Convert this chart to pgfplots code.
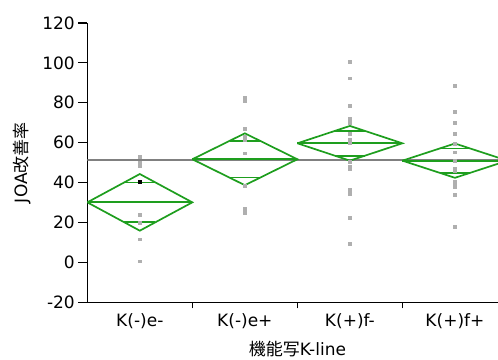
\documentclass[border=0pt]{standalone}
\usepackage{pgfplots}
\pgfplotsset{compat=1.18}
\usepackage{fontspec}
\setmainfont{DejaVu Sans}
\newfontfamily\jp{Noto Sans CJK JP}
\definecolor{jgreen}{RGB}{30,158,30}
\definecolor{ptgray}{RGB}{175,175,175}
\definecolor{mgray}{RGB}{128,128,128}
\begin{document}
\begin{tikzpicture}
\begin{axis}[
  scale only axis,
  width=410.7bp, height=279.3bp,
  xmin=0, xmax=3.91, ymin=-20, ymax=120,
  axis x line*=bottom, axis y line*=left,
  axis line style={-, line width=1.2bp, black},
  ytick=\empty,
  extra y ticks={-20,0,20,40,60,80,100,120},
  extra y tick style={major tick length=9bp},
  xtick={1,2,3},
  xticklabels={},
  extra x ticks={0.5,1.5,2.5,3.5},
  extra x tick labels={K(-)e-,K(-)e+,K(+)f-,K(+)f+},
  extra x tick style={major tick length=0bp, xticklabel style={anchor=center, yshift=-19bp}},
  tick align=outside,
  major tick length=6bp,
  tick style={line width=1.2bp, black},
  tick label style={font=\fontsize{17bp}{20bp}\selectfont},
  /pgf/number format/assume math mode=true,
  yticklabel style={anchor=east},
  clip=true,
]
\coordinate (SW) at (rel axis cs:0,0);
\coordinate (NE) at (rel axis cs:1,1);
\coordinate (XL) at (axis cs:2,-20);
% grand mean
\addplot[mgray, line width=1.6bp] coordinates {(0,51.2) (3.91,51.2)};
% data points
\addplot[only marks, mark=square*, mark size=1.4bp, color=ptgray] coordinates {
(0.5,53.0) (0.5,50.0) (0.5,48.3) (0.5,23.9) (0.5,20.1) (0.5,11.6) (0.5,0.6)
(1.5,82.4) (1.5,81.0) (1.5,66.9) (1.5,63.0) (1.5,61.4) (1.5,54.7) (1.5,38.3) (1.5,26.8) (1.5,24.8)
(2.5,100.6) (2.5,92.3) (2.5,78.4) (2.5,72.2) (2.5,71.0) (2.5,70.0) (2.5,64.7) (2.5,61.4) (2.5,59.7) (2.5,50.5) (2.5,48.0) (2.5,46.7) (2.5,36.6) (2.5,34.3) (2.5,22.4) (2.5,9.2)
(3.5,88.4) (3.5,75.5) (3.5,70.2) (3.5,64.7) (3.5,59.3) (3.5,55.2) (3.5,51.0) (3.5,46.8) (3.5,45.8) (3.5,40.5) (3.5,38.8) (3.5,37.9) (3.5,34.1) (3.5,17.9)
};
\addplot[only marks, mark=square*, mark size=1.4bp, color=black] coordinates {(0.5,40.3)};
% diamonds
\addplot[jgreen, line width=1.7bp] coordinates {(0,30.1) (0.5,44.3) (1,30.1) (0.5,15.9) (0,30.1)};
\addplot[jgreen, line width=1.7bp] coordinates {(0,30.1) (1,30.1)};
\addplot[jgreen, line width=1.7bp] coordinates {(0.354,40.1) (0.646,40.1)};
\addplot[jgreen, line width=1.7bp] coordinates {(0.354,20.1) (0.646,20.1)};
\addplot[jgreen, line width=1.7bp] coordinates {(1,51.7) (1.5,64.7) (2,51.7) (1.5,38.7) (1,51.7)};
\addplot[jgreen, line width=1.7bp] coordinates {(1,51.7) (2,51.7)};
\addplot[jgreen, line width=1.7bp] coordinates {(1.354,60.9) (1.646,60.9)};
\addplot[jgreen, line width=1.7bp] coordinates {(1.354,42.5) (1.646,42.5)};
\addplot[jgreen, line width=1.7bp] coordinates {(2,59.7) (2.5,68.4) (3,59.7) (2.5,51.0) (2,59.7)};
\addplot[jgreen, line width=1.7bp] coordinates {(2,59.7) (3,59.7)};
\addplot[jgreen, line width=1.7bp] coordinates {(2.354,65.9) (2.646,65.9)};
\addplot[jgreen, line width=1.7bp] coordinates {(2.354,53.5) (2.646,53.5)};
\addplot[jgreen, line width=1.7bp] coordinates {(3,51.0) (3.5,59.6) (4,51.0) (3.5,42.4) (3,51.0)};
\addplot[jgreen, line width=1.7bp] coordinates {(3,51.0) (4,51.0)};
\addplot[jgreen, line width=1.7bp] coordinates {(3.354,57.1) (3.646,57.1)};
\addplot[jgreen, line width=1.7bp] coordinates {(3.354,44.9) (3.646,44.9)};
\end{axis}
\node[font=\fontsize{17bp}{20bp}\selectfont] at ([yshift=-47bp]XL) {{\jp 機能写}K-line};
\path (SW) -- coordinate[pos=0.5] (MIDL) (SW |- NE);
\node[font=\fontsize{17bp}{20bp}\selectfont, rotate=90] at ([xshift=-65.6bp]MIDL) {JOA{\jp 改善率}};
\pgfresetboundingbox
\path[use as bounding box] ([xshift=-87.3bp,yshift=-57.7bp]SW) rectangle ([yshift=23bp]NE);
\end{tikzpicture}
\end{document}
